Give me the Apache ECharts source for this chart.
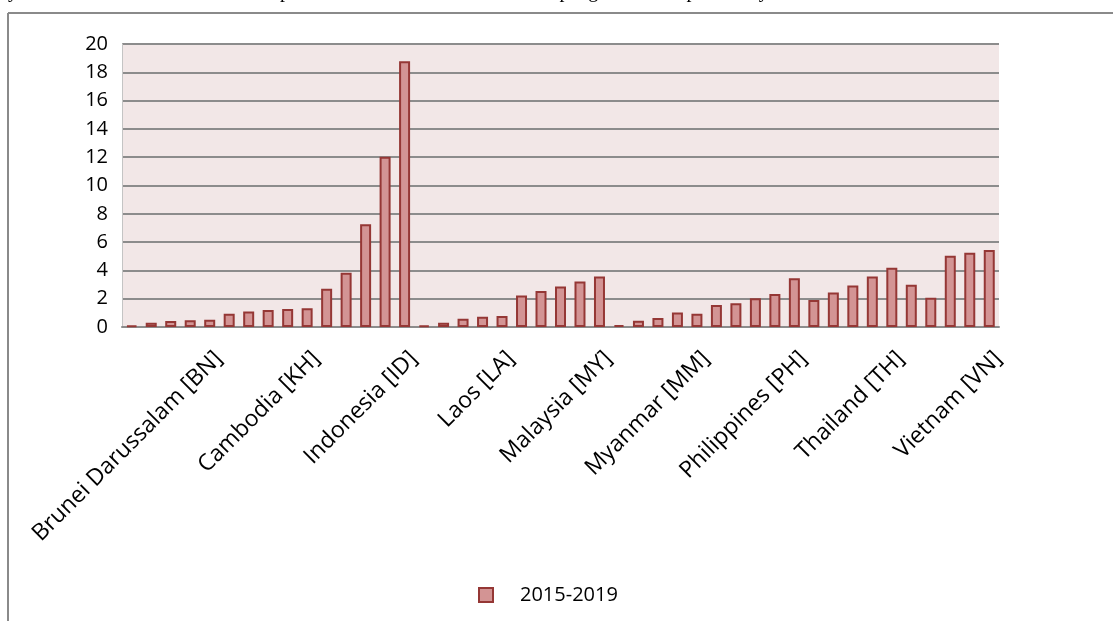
<!DOCTYPE html>
<html>
<head>
    <meta charset="UTF-8">
    <title>ASEAN 2015-2019</title>
    <style>
        html,body {
            height: 100%;
            width: 100%;
            margin: 0;
            padding: 0;
            background: #fff;
        }
        #chart {
            width: 1113px;
            height: 621px;
        }
    </style>
    <script src="https://cdn.jsdelivr.net/npm/echarts@6/dist/echarts.min.js"></script>
</head>
<body>
<div id="chart"></div>
<script type="text/javascript">
    // negara, tiap negara punya 5 batang
    var countries = ['Brunei Darussalam [BN]', 'Cambodia [KH]', 'Indonesia [ID]', 'Laos [LA]',
        'Malaysia [MY]', 'Myanmar [MM]', 'Philippines [PH]', 'Thailand [TH]', 'Vietnam [VN]'];
    var values = [
        0.1, 0.3, 0.42, 0.47, 0.52,
        0.94, 1.1, 1.2, 1.27, 1.32,
        2.7, 3.84, 7.26, 12.03, 18.78,
        0.1, 0.3, 0.58, 0.73, 0.77,
        2.23, 2.54, 2.86, 3.22, 3.57,
        0.13, 0.44, 0.63, 1.03, 0.94,
        1.55, 1.67, 2.04, 2.33, 3.45,
        1.9, 2.44, 2.93, 3.57, 4.18,
        2.98, 2.07, 5.03, 5.24, 5.45
    ];
    var yTicks = [0, 2, 4, 6, 8, 10, 12, 14, 16, 18, 20];
    var seriesName = '2015-2019';
    var perCountry = 5;

    var categories = [];
    for (var i = 0; i < values.length; i++) {
        categories.push(countries[Math.floor(i / perCountry)] + '#' + (i % perCountry));
    }

    // label sumbu x digeser sedikit ke kanan (grid kedua, hanya untuk label)
    var labelShift = 9;

    var myChart = echarts.init(document.getElementById('chart'));
    var option = {
        animation: false,
        textStyle: {fontFamily: 'Open Sans'},
        graphic: [
            // potongan teks dokumen di atas grafik
            {
                type: 'text', left: -2, top: -18, silent: true,
                style: {
                    text: 'nya akan memberikan informasi kepada seluruh elemen terkait dalam pengambilan keputusannya.',
                    font: '20px "Liberation Serif"', fill: '#000'
                }
            },
            {
                type: 'line', silent: true,
                shape: {x1: 8, y1: 13, x2: 1113, y2: 13},
                style: {stroke: '#8a8a8a', lineWidth: 2}
            },
            {
                type: 'line', silent: true,
                shape: {x1: 8, y1: 13, x2: 8, y2: 621},
                style: {stroke: '#8a8a8a', lineWidth: 2}
            }
        ],
        grid: [{
            left: 122,
            right: 114,
            top: 44,
            bottom: 294,
            show: true,
            backgroundColor: '#f2e7e7',
            borderWidth: 0
        }, {
            left: 122 + labelShift,
            right: 114 - labelShift,
            top: 44,
            bottom: 294
        }],
        legend: {
            left: 473,
            top: 580,
            icon: 'rect',
            itemWidth: 14,
            itemHeight: 14,
            textStyle: {fontSize: 20, color: '#000', padding: [0, 0, 0, 22]},
            data: [seriesName]
        },
        xAxis: [{
            type: 'category',
            data: categories,
            axisLine: {lineStyle: {color: '#8c8c8c', width: 2}},
            axisTick: {show: false},
            axisLabel: {show: false}
        }, {
            type: 'category',
            gridIndex: 1,
            data: categories,
            axisLine: {show: false},
            axisTick: {show: false},
            axisLabel: {
                interval: function (index) { return index % perCountry === perCountry - 1; },
                formatter: function (val) { return val.split('#')[0]; },
                rotate: 45,
                margin: 28,
                fontSize: 23,
                color: '#000'
            }
        }],
        yAxis: [{
            type: 'value',
            min: yTicks[0],
            max: yTicks[yTicks.length - 1],
            interval: yTicks[1] - yTicks[0],
            axisLine: {show: true, lineStyle: {color: '#c4c4c4', width: 1}},
            axisTick: {show: false},
            axisLabel: {fontSize: 20, color: '#000', margin: 14},
            splitLine: {lineStyle: {color: '#8c8c8c', width: 2}}
        }, {
            type: 'value',
            gridIndex: 1,
            show: false,
            splitLine: {show: false}
        }],
        series: [{
            name: seriesName,
            type: 'bar',
            data: values,
            barWidth: 11,
            itemStyle: {
                color: '#d39494',
                borderColor: '#953735',
                borderWidth: 2
            }
        }]
    };
    myChart.setOption(option);
</script>
</body>
</html>
